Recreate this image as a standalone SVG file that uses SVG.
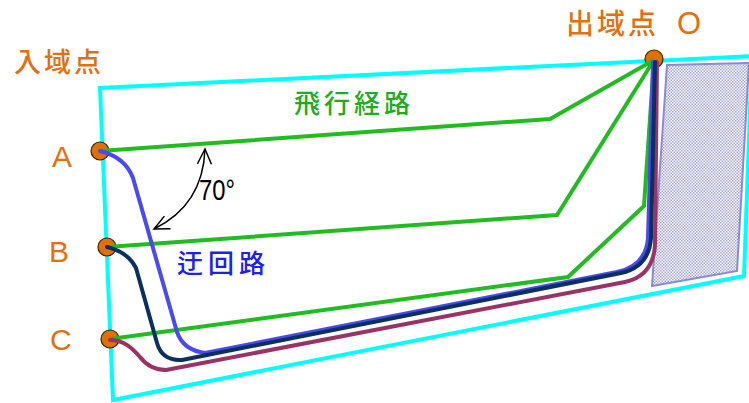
<svg xmlns="http://www.w3.org/2000/svg" width="749" height="403" viewBox="0 0 749 403">
<defs>
<style>
.area{fill:none;stroke:#00ffff;stroke-width:4;stroke-linejoin:miter}
.zone{fill:url(#hatch);stroke:#8a8ad0;stroke-width:2}
.fl{fill:none;stroke:#22bb22;stroke-width:4;stroke-linejoin:miter}
.rt{fill:none;stroke-width:4;stroke-linecap:round;stroke-linejoin:round}
.pt{fill:#e07000;stroke:#3a2000;stroke-width:1.2}
.lbl{font-family:"Liberation Sans",Arial,sans-serif;fill:#e07010}
.cjk{font-family:"Noto Sans CJK JP","Noto Sans CJK SC",sans-serif;font-weight:500}
.ang{fill:none;stroke:#000;stroke-width:1.5}
</style>
<pattern id="hatch" width="3" height="3" patternUnits="userSpaceOnUse">
<rect width="3" height="3" fill="#ffffff"/>
<rect x="0" y="0" width="1.5" height="1.5" fill="#a4a4dc"/>
<rect x="1.5" y="1.5" width="1.5" height="1.5" fill="#a4a4dc"/>
</pattern>
<marker id="open" viewBox="0 0 20 20" refX="18" refY="10" markerWidth="20" markerHeight="20" markerUnits="userSpaceOnUse" orient="auto-start-reverse">
<path d="M3,3 L18,10 L3,17" fill="none" stroke="#000" stroke-width="1.5"/>
</marker>
</defs>

<g id="airspace">
<polygon class="area" points="100,88 752,56 744,276 113,400"/>
</g>
<g id="restricted-zone">
<polygon class="zone" points="667,65 749,63 737,271 652,286"/>
</g>

<g id="points">
<g id="point-A"><circle class="pt" cx="100" cy="151" r="9"/></g>
<g id="point-B"><circle class="pt" cx="107" cy="247" r="9"/></g>
<g id="point-C"><circle class="pt" cx="110" cy="339" r="9"/></g>
<g id="point-O"><circle class="pt" cx="654" cy="59" r="9"/></g>
</g>

<g id="connectors">
<polyline class="fl" points="100,151 550,119 654,60"/>
<polyline class="fl" points="107,247 557,215 654,60"/>
<polyline class="fl" points="110,339 568,277 644,206 654,60"/>
<path class="rt" stroke="#993366" d="M110,340 C124,340 132,348 140,357 Q150,370 166,370 L625,282 Q653,276 655,245 L657,62"/>
<path class="rt" stroke="#4a4af0" d="M100,151 Q125,157 133,178 L177,332 Q183,350 205,353 L617,272 Q646,266 648,238 L653,62"/>
<path class="rt" stroke="#0a3060" d="M107,247 Q128,252 136,268 L157,343 Q162,361 182,360 L621,273 Q649,267 651,238 L655,62"/>
<path class="ang" d="M205,149 Q203,205 154,229" marker-start="url(#open)" marker-end="url(#open)"/>
</g>

<g id="labels">
<text class="lbl cjk" x="14" y="72" font-size="27" letter-spacing="3">入域点</text>
<text class="lbl cjk" x="566" y="34" font-size="28" letter-spacing="3">出域点 <tspan class="lbl" x="677" font-family="Liberation Sans,Arial,sans-serif" font-weight="normal" font-size="31">O</tspan></text>
<text class="lbl" x="52" y="167" font-size="30">A</text>
<text class="lbl" x="49" y="262" font-size="30">B</text>
<text class="lbl" x="50" y="350" font-size="30">C</text>
<text class="cjk" x="294" y="113" font-size="26" letter-spacing="4" fill="#22aa22">飛行経路</text>
<text class="cjk" x="177" y="273" font-size="26" letter-spacing="5" fill="#2020ee">迂回路</text>
<text x="199" y="200" font-size="30" textLength="36" lengthAdjust="spacingAndGlyphs" font-family="Liberation Sans Narrow,Liberation Sans,sans-serif" fill="#000">70°</text>
</g>
</svg>
